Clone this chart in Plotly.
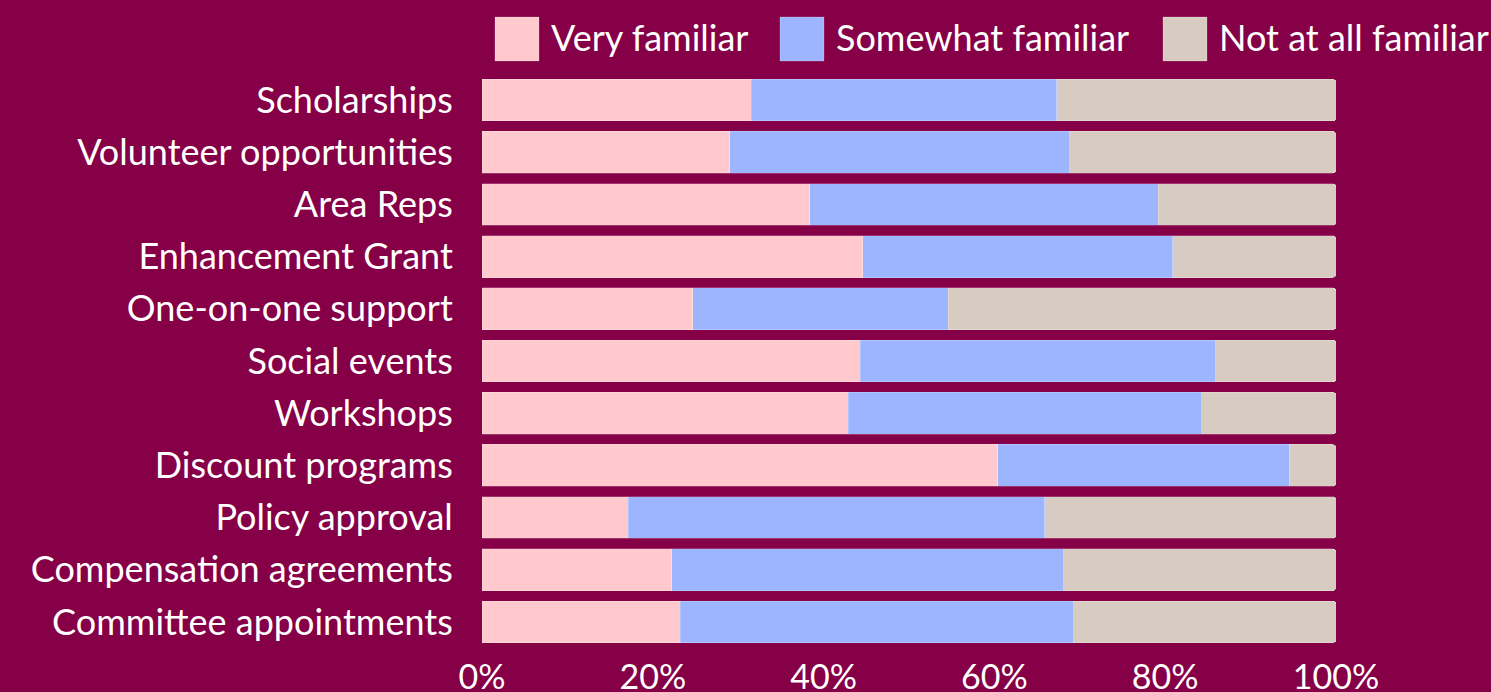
import plotly.graph_objects as go

categories = ["Scholarships", "Volunteer opportunities", "Area Reps", "Enhancement Grant",
              "One-on-one support", "Social events", "Workshops", "Discount programs",
              "Policy approval", "Compensation agreements", "Committee appointments"]
very = [31.5, 29.0, 38.4, 44.6, 24.7, 44.3, 42.9, 60.4, 17.1, 22.2, 23.2]
somewhat = [35.8, 39.8, 40.8, 36.3, 29.9, 41.6, 41.4, 34.1, 48.8, 45.9, 46.1]
notatall = [32.7, 31.2, 20.8, 19.1, 45.4, 14.1, 15.7, 5.5, 34.1, 31.9, 30.7]
series_names = ["Very familiar", "Somewhat familiar", "Not at all familiar"]
colors = ["#FFC9CD", "#9DB4FF", "#D8CBC1"]
x_ticks = [0, 20, 40, 60, 80, 100]
x_ticklabels = ["0%", "20%", "40%", "60%", "80%", "100%"]

BG = "#850046"
FONT = "Lato, Noto Sans, sans-serif"

fig = go.Figure()
for name, vals, col in zip(series_names, [very, somewhat, notatall], colors):
    fig.add_trace(go.Bar(
        y=categories, x=vals, name=name, orientation="h",
        marker=dict(color=col, line=dict(width=0.6, color="rgba(255,255,255,0.35)"),
                    cornerradius=3),
        showlegend=False,
    ))

fig.update_layout(
    barmode="stack",
    bargap=0.2,
    width=1491, height=692,
    paper_bgcolor=BG, plot_bgcolor=BG,
    margin=dict(l=482, r=155, t=74, b=44, autoexpand=False),
    font=dict(family=FONT, color="white", size=34),
)
fig.update_yaxes(
    categoryorder="array", categoryarray=categories, autorange="reversed",
    showgrid=False, zeroline=False, showline=False,
    ticks="outside", ticklen=21, tickcolor="rgba(0,0,0,0)",
    tickfont=dict(family=FONT, size=36, color="white"),
)
fig.update_xaxes(
    range=[0, 100], tickvals=x_ticks, ticktext=x_ticklabels,
    showgrid=False, zeroline=False, showline=False,
    ticks="", ticklabelstandoff=6,
    tickfont=dict(family=FONT, size=34, color="white"),
)

# custom legend (large square swatches)
legend_x = [495, 780, 1163]  # pixel positions of swatches
W = 1491.0
H = 692.0
PW = W - 482 - 155
PH = H - 74 - 44
for name, col, lx in zip(series_names, colors, legend_x):
    fig.add_shape(type="rect", xref="paper", yref="paper",
                  x0=(lx - 482) / PW, x1=(lx + 44 - 482) / PW,
                  y0=1 + (74 - 61) / PH, y1=1 + (74 - 17) / PH,
                  fillcolor=col, line=dict(width=0.6, color="rgba(255,255,255,0.35)"))
    fig.add_annotation(text=name, xref="paper", yref="paper",
                       x=(lx + 54 - 482) / PW, y=1 + (74 - 37) / PH,
                       xanchor="left", yanchor="middle", showarrow=False,
                       font=dict(family=FONT, size=36, color="white"))

fig.write_html("out.html")
